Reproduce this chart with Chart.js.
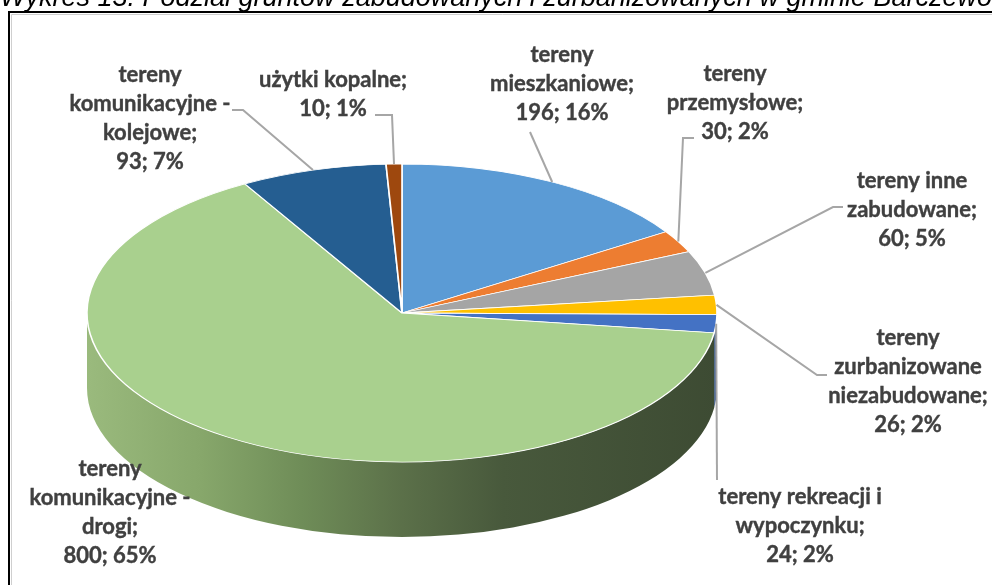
<!DOCTYPE html>
<html lang="pl">
<head>
    <meta charset="UTF-8">
    <title>Podział gruntów zabudowanych i zurbanizowanych</title>
    <script src="https://cdn.jsdelivr.net/npm/chart.js"></script>
    <style>
        body { margin: 0; background: #fff; }
        canvas { display: block; }
    </style>
</head>
<body>
    <canvas id="pieChart" width="992" height="585"></canvas>

    <script>
        // dane
        const categories = [
            'tereny mieszkaniowe',
            'tereny przemysłowe',
            'tereny inne zabudowane',
            'tereny zurbanizowane niezabudowane',
            'tereny rekreacji i wypoczynku',
            'tereny komunikacyjne - drogi',
            'tereny komunikacyjne - kolejowe',
            'użytki kopalne'
        ];
        const values = [196, 30, 60, 26, 24, 800, 93, 10];
        const percents = [16, 2, 5, 2, 2, 65, 7, 1];

        // podpisy w liniach, jak na wykresie
        const labelLines = [
            ['tereny', 'mieszkaniowe;'],
            ['tereny', 'przemysłowe;'],
            ['tereny inne', 'zabudowane;'],
            ['tereny', 'zurbanizowane', 'niezabudowane;'],
            ['tereny rekreacji i', 'wypoczynku;'],
            ['tereny', 'komunikacyjne -', 'drogi;'],
            ['tereny', 'komunikacyjne -', 'kolejowe;'],
            ['użytki kopalne;']
        ];

        const colors = ['#5b9bd5', '#ed7d31', '#a5a5a5', '#ffc000', '#4472c4', '#a9d08e', '#255e91', '#9e480e'];
        const sideColors = ['#41719c', '#ae5a21', '#7c7c7c', '#bf9000', '#2f528f', null, '#1a4268', '#6f320a'];

        // układ: środek elipsy, promienie, grubość
        const PX = 402, PY = 313, RX = 315, RY = 149, DEPTH = 75;

        // pozycja podpisów (środek x, y pierwszej linii) i łamane linii odniesienia
        const labelPos = [[562, 55], [735, 74], [912, 181], [908, 338], [800, 497], [110, 469], [150, 75], [333, 80]];
        const leaders = [
            [[530, 132]],
            [[694, 138], [683, 138]],
            [[843, 207], [833, 207]],
            [[827, 375], [817, 375]],
            [[717, 480]],
            null,
            [[232, 110], [243, 110]],
            [[375, 115], [392, 115]]
        ];

        function ellPoint(angle, dy) {
            return [PX + RX * Math.cos(angle), PY + RY * Math.sin(angle) + (dy || 0)];
        }

        const pie3d = {
            id: 'pie3d',
            beforeDraw(chart) {
                const ctx = chart.ctx;
                ctx.save();
                ctx.fillStyle = '#000';
                ctx.font = 'italic 27px "Liberation Sans"';
                ctx.textAlign = 'left';
                ctx.textBaseline = 'alphabetic';
                ctx.fillText('Wykres 13. Podział gruntów zabudowanych i zurbanizowanych w gminie Barczewo', 0, 6);
                // ramka
                ctx.strokeStyle = '#cfcfcf';
                ctx.lineWidth = 1;
                ctx.beginPath();
                ctx.moveTo(995, 14.5);
                ctx.lineTo(11.5, 14.5);
                ctx.lineTo(11.5, 590);
                ctx.stroke();
                ctx.strokeStyle = '#000';
                ctx.lineWidth = 2;
                ctx.beginPath();
                ctx.moveTo(995, 12);
                ctx.lineTo(9, 12);
                ctx.lineTo(9, 590);
                ctx.stroke();
                ctx.restore();
            },
            beforeDatasetsDraw(chart) {
                const ctx = chart.ctx;
                const arcs = chart.getDatasetMeta(0).data;
                // boczne ściany
                arcs.forEach((arc, i) => {
                    const a1 = Math.max(arc.startAngle, 0);
                    const a2 = Math.min(arc.endAngle, Math.PI);
                    if (a2 <= a1) return;
                    let fill = sideColors[i];
                    if (!fill) {
                        const g = ctx.createLinearGradient(PX - RX, 0, PX + RX, 0);
                        g.addColorStop(0, '#9aba7d');
                        g.addColorStop(0.18, '#87a76b');
                        g.addColorStop(0.34, '#6f8d58');
                        g.addColorStop(0.5, '#5b7049');
                        g.addColorStop(0.66, '#48593c');
                        g.addColorStop(1, '#3d4b33');
                        fill = g;
                    }
                    ctx.save();
                    ctx.fillStyle = fill;
                    ctx.beginPath();
                    ctx.ellipse(PX, PY, RX, RY, 0, a1, a2, false);
                    ctx.ellipse(PX, PY + DEPTH, RX, RY, 0, a2, a1, true);
                    ctx.closePath();
                    ctx.fill();
                    ctx.restore();
                });
                // górna powierzchnia: przekształcenie koła w elipsę
                const a0 = arcs[0];
                const r0 = a0.outerRadius;
                ctx.save();
                ctx.translate(PX, PY);
                ctx.scale(RX / r0, RY / r0);
                ctx.translate(-a0.x, -a0.y);
            },
            afterDatasetsDraw(chart) {
                const ctx = chart.ctx;
                ctx.restore();
                const arcs = chart.getDatasetMeta(0).data;
                ctx.save();
                // linie odniesienia
                ctx.strokeStyle = '#a6a6a6';
                ctx.lineWidth = 2;
                arcs.forEach((arc, i) => {
                    if (!leaders[i]) return;
                    const mid = (arc.startAngle + arc.endAngle) / 2;
                    const p = ellPoint(mid);
                    ctx.beginPath();
                    ctx.moveTo(leaders[i][0][0], leaders[i][0][1]);
                    leaders[i].slice(1).forEach(q => ctx.lineTo(q[0], q[1]));
                    ctx.lineTo(p[0], p[1]);
                    ctx.stroke();
                });
                // podpisy
                ctx.fillStyle = '#404040';
                ctx.strokeStyle = '#404040';
                ctx.lineWidth = 0.4;
                ctx.font = 'bold 22px Lato';
                ctx.textAlign = 'center';
                ctx.textBaseline = 'middle';
                labelLines.forEach((lines, i) => {
                    const all = lines.concat([values[i] + '; ' + percents[i] + '%']);
                    all.forEach((t, k) => {
                        ctx.fillText(t, labelPos[i][0], labelPos[i][1] + k * 29);
                        ctx.strokeText(t, labelPos[i][0], labelPos[i][1] + k * 29);
                    });
                });
                ctx.restore();
            }
        };

        new Chart(document.getElementById('pieChart'), {
            type: 'pie',
            data: {
                labels: categories,
                datasets: [{
                    data: values,
                    backgroundColor: colors,
                    borderColor: '#ffffff',
                    borderWidth: 1.5,
                    clip: false
                }]
            },
            options: {
                responsive: false,
                animation: false,
                events: [],
                plugins: {
                    legend: { display: false },
                    tooltip: { enabled: false }
                }
            },
            plugins: [pie3d]
        });
    </script>
</body>
</html>
